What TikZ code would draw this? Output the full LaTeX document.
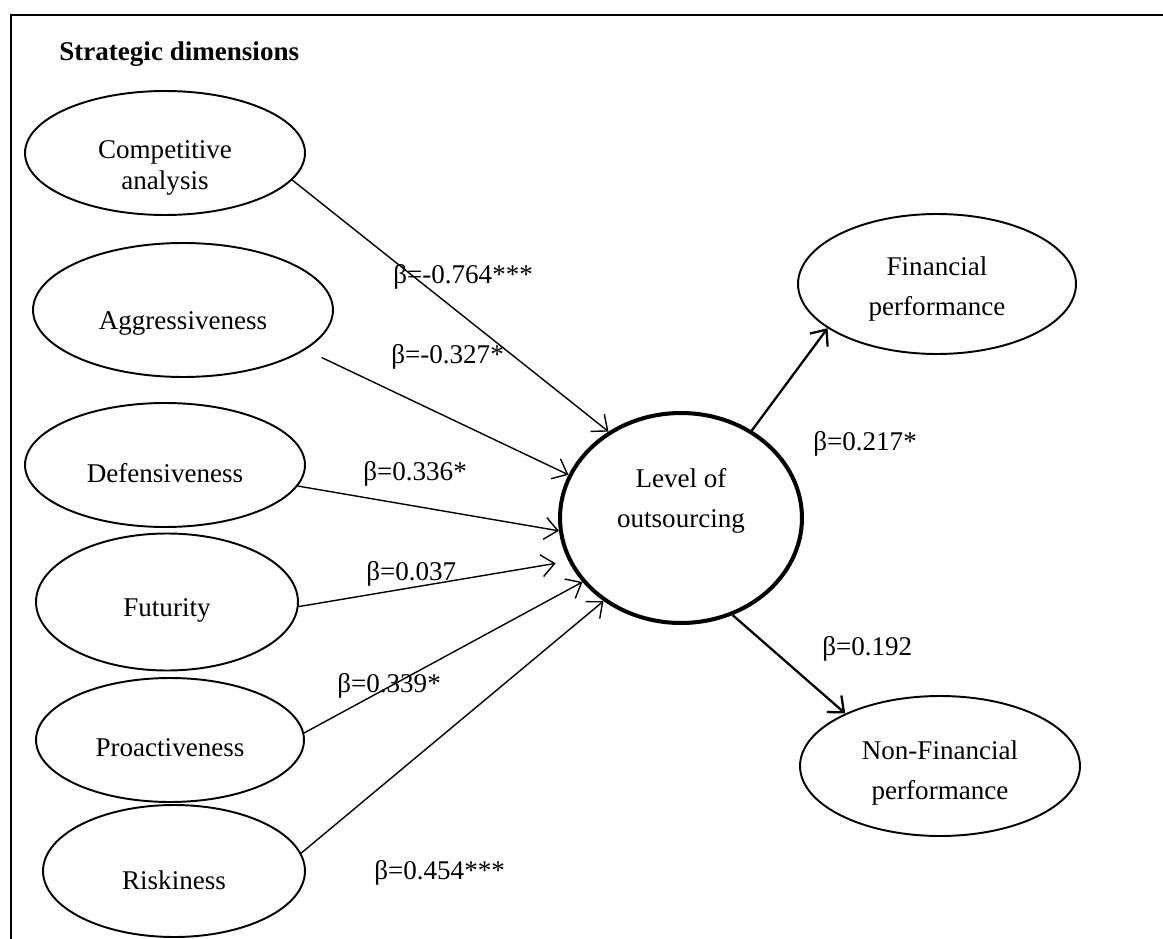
\documentclass[tikz,border=0pt]{standalone}
\usepackage{fontspec}
\setmainfont{Liberation Serif}
\usetikzlibrary{shapes.geometric,arrows.meta}
% lower a line of text inside its node
\newcommand\low[2][0.16cm]{\raisebox{-#1}[\height][\depth]{#2}}

\begin{document}
\begin{tikzpicture}[x=0.02cm, y=-0.02cm,
  dim/.style={draw, ellipse, line width=1.1pt, inner sep=0pt, align=center,
    font=\fontsize{15.4}{17.5}\selectfont},
  perf/.style={dim, font=\fontsize{15.4}{22.5}\selectfont},
  coef/.style={anchor=west, inner sep=0pt, font=\fontsize{15.4}{17}\selectfont},
  link/.style={-{Straight Barb[length=2.6mm,width=4.4mm]}, line width=0.8pt}]
\useasboundingbox (0,0) rectangle (1163,939);
\draw[line width=1.2pt] (11,939) -- (11,15) -- (1163,15);

\node[coef, font=\bfseries\fontsize{15.4}{17}\selectfont] (title) at (59,54) {Strategic dimensions};

% strategic dimensions
\node[dim, minimum width=5.6cm, minimum height=2.48cm] (comp) at (165,153) {\low[0.3cm]{Competitive}\\\low[0.3cm]{analysis}};
\node[dim, minimum width=6cm, minimum height=2.68cm] (aggr) at (183,310) {\low[0.26cm]{Aggressiveness}};
\node[dim, minimum width=5.6cm, minimum height=2.48cm] (def) at (165,465) {\low{Defensiveness}};
\node[dim, minimum width=5.24cm, minimum height=2.74cm] (fut) at (167,602) {\low{Futurity}};
\node[dim, minimum width=5.36cm, minimum height=2.48cm] (pro) at (170,740) {\low{Proactiveness}};
\node[dim, minimum width=5.24cm, minimum height=2.64cm] (risk) at (174,871) {\low[0.18cm]{Riskiness}};

% outsourcing and performance
\node[perf, line width=2.3pt, minimum width=4.84cm, minimum height=4.2cm] (level) at (681,518) {Level of\\outsourcing\\\mbox{}};
\node[perf, minimum width=5.56cm, minimum height=2.8cm] (fin) at (937,284) {\low[0.1cm]{Financial}\\\low[0.1cm]{performance}};
\node[perf, minimum width=5.6cm, minimum height=2.8cm] (nonfin) at (940,766) {\low[0.14cm]{Non-Financial}\\\low[0.14cm]{performance}};

\draw[link] (comp.-12) -- (level.130);
\draw[link, shorten <=0.36cm] (aggr.-18) -- (level.159);
\draw[link] (def.-9) -- (level.186);
\draw[link, shorten >=0.26cm] (fut.-2) -- (level.201);
\draw[link] (pro.3) -- (level.213);
\draw[link] (risk.8) -- (level.227);
\draw[link, line width=1.3pt] (level.51) -- (fin.202);
\draw[link, line width=1.3pt] (level.-62) -- (nonfin.151);

% coefficients
\node[coef] (bcomp) at (393,277) {β=-0.764***};
\node[coef] (baggr) at (391,357) {β=-0.327*};
\node[coef] (bdef) at (363,474) {β=0.336*};
\node[coef] (bfut) at (366,574) {β=0.037};
\node[coef] (bpro) at (337,686) {β=0.339*};
\node[coef] (brisk) at (374,873) {β=0.454***};
\node[coef] (bfin) at (813,444) {β=0.217*};
\node[coef] (bnonfin) at (822,649) {β=0.192};
\end{tikzpicture}
\end{document}
